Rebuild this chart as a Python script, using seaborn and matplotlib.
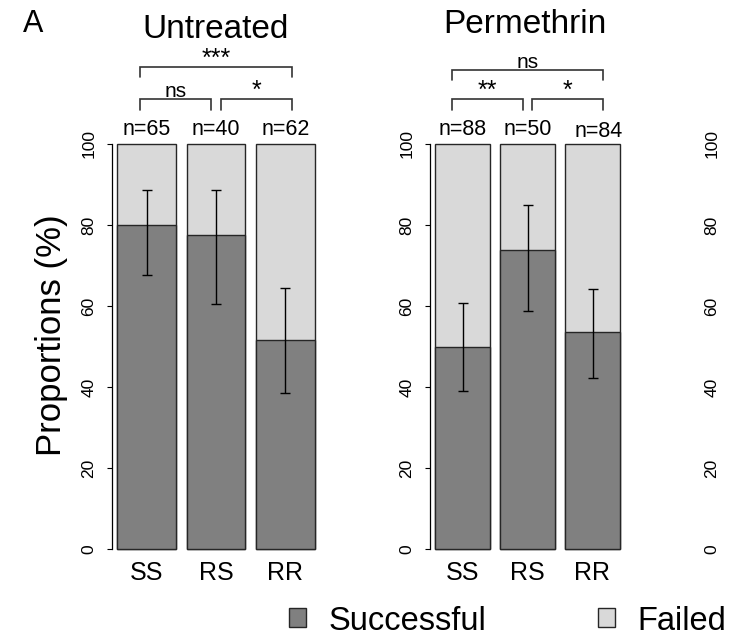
import matplotlib
matplotlib.use("Agg")
import matplotlib.pyplot as plt
from matplotlib.patches import Patch
import seaborn as sns

sns.set_theme(style="ticks")
plt.rcParams["font.family"] = ["Liberation Sans", "DejaVu Sans"]
plt.rcParams.update({"text.color": "black", "axes.labelcolor": "black",
                     "xtick.color": "black", "ytick.color": "black"})

# ── data ─────────────────────────────────────────────────────────────────────
genotypes = ["SS", "RS", "RR"]
comparisons = [(0, 1), (1, 2), (0, 2)]

untreated_success = [80.0, 77.6, 51.6]
untreated_ci_low = [67.6, 60.6, 38.5]
untreated_ci_high = [88.6, 88.6, 64.4]
untreated_n = [65, 40, 62]
untreated_sig = ["ns", "*", "***"]

permethrin_success = [50.0, 73.9, 53.6]
permethrin_ci_low = [39.0, 58.7, 42.2]
permethrin_ci_high = [60.7, 84.9, 64.3]
permethrin_n = [88, 50, 84]
permethrin_sig = ["**", "*", "ns"]

yticks = [0, 20, 40, 60, 80, 100]

DARK = "#808080"
LIGHT = "#d9d9d9"
EDGE = "#262626"

W, H = 741, 639
fig = plt.figure(figsize=(W / 100, H / 100), dpi=100)


def px_axes(x0, x1, ytop, ybot):
    return fig.add_axes([x0 / W, 1 - ybot / H, (x1 - x0) / W, (ybot - ytop) / H])


def style_yaxis(ax):
    ax.set_ylim(0, 100)
    ax.set_yticks(yticks)
    ax.tick_params(axis="y", labelrotation=90, labelsize=12.5, length=3.6,
                   width=0.8, pad=7.5, color="black")
    for lab in ax.get_yticklabels():
        lab.set_va("center")


def bracket(ax, a, b, y_top, y_tip, label):
    ax.plot([a, a, b, b], [y_tip, y_top, y_top, y_tip], color="#333333",
            lw=1.2, clip_on=False, solid_joinstyle="miter")
    if "*" in label:
        # R draws its asterisks bigger than the letters
        ax.text((a + b) / 2, y_top + 0.3, label, ha="center", va="baseline",
                fontsize=18, clip_on=False)
    else:
        ax.text((a + b) / 2, y_top + 0.4, label, ha="center", va="baseline",
                fontsize=15, clip_on=False)


def panel(ax, success, lo, hi, n, sig, top_y, outer, last_n_nudge=(0, 0)):
    sns.barplot(x=genotypes, y=[100] * len(genotypes), color=LIGHT, saturation=1,
                width=0.85, edgecolor=EDGE, linewidth=1, ax=ax)
    sns.barplot(x=genotypes, y=success, color=DARK, saturation=1,
                width=0.85, edgecolor=EDGE, linewidth=1, ax=ax)
    for p in ax.patches:
        p.set_clip_on(False)
    xs = list(range(len(genotypes)))
    yerr = [[s - l for s, l in zip(success, lo)], [h - s for s, h in zip(success, hi)]]
    ax.errorbar(xs, success, yerr=yerr, fmt="none", ecolor="black",
                elinewidth=1, capsize=3.5, capthick=1)
    ax.set_xlim(-0.5, len(genotypes) - 0.5)
    style_yaxis(ax)
    ax.tick_params(axis="x", length=0, pad=9, labelsize=18)
    ax.set_xlabel("")
    ax.set_ylabel("")
    sns.despine(ax=ax, bottom=True)
    ax.spines["left"].set_bounds(0, 100)
    ax.spines["left"].set_linewidth(0.9)
    ax.spines["left"].set_color("black")

    for i, cnt in enumerate(n):
        dx, dy = last_n_nudge if i == len(n) - 1 else (0, 0)
        ax.text(i + dx, 102.3 + dy, f"n={cnt}", ha="center", va="baseline",
                fontsize=15.5, clip_on=False)

    # pairwise brackets: two adjacent pairs low, the outer pair on top
    last = len(genotypes) - 1
    for (a, b), lab in zip(comparisons, sig):
        left = a - outer if a == 0 else a + 0.07
        right = b + outer if b == last else b - 0.07
        if b - a == 1:
            bracket(ax, left, right, 111.1, 108.4, lab)
        else:
            bracket(ax, left, right, top_y, top_y - 2.5, lab)


ax1 = px_axes(112, 320, 144, 549)
ax2 = px_axes(430, 625, 144, 549)
ax3 = px_axes(735, 741, 144, 549)

panel(ax1, untreated_success, untreated_ci_low, untreated_ci_high,
      untreated_n, untreated_sig, 119.0, 0.1)
panel(ax2, permethrin_success, permethrin_ci_low, permethrin_ci_high,
      permethrin_n, permethrin_sig, 118.3, 0.16, last_n_nudge=(0.1, -0.5))

# third (empty) panel: only its axis labels are visible at the right edge
style_yaxis(ax3)
ax3.tick_params(axis="y", length=0, pad=11.1)
ax3.set_xticks([])
for s in ax3.spines.values():
    s.set_visible(False)
ax3.patch.set_alpha(0)

fig.text(23 / W, 1 - 32 / H, "A", fontsize=22, ha="left", va="baseline")
fig.text(216 / W, 1 - 38 / H, "Untreated", fontsize=24, ha="center", va="baseline")
fig.text(525 / W, 1 - 33 / H, "Permethrin", fontsize=24, ha="center", va="baseline")
fig.text(52 / W, 1 - 335 / H, "Proportions (%)", fontsize=25, rotation=90,
         ha="center", va="center")

handles = [Patch(facecolor=DARK, edgecolor=EDGE, linewidth=1, label="Successful"),
           Patch(facecolor=LIGHT, edgecolor=EDGE, linewidth=1, label="Failed")]
fig.legend(handles=handles, loc="center left", bbox_to_anchor=(289 / W, 1 - 621 / H),
           ncol=2, frameon=False, fontsize=23.5, handlelength=0.52, handleheight=0.52,
           handletextpad=0.7, columnspacing=3.4, borderpad=0, borderaxespad=0)

fig.savefig("out.png", dpi=100)
